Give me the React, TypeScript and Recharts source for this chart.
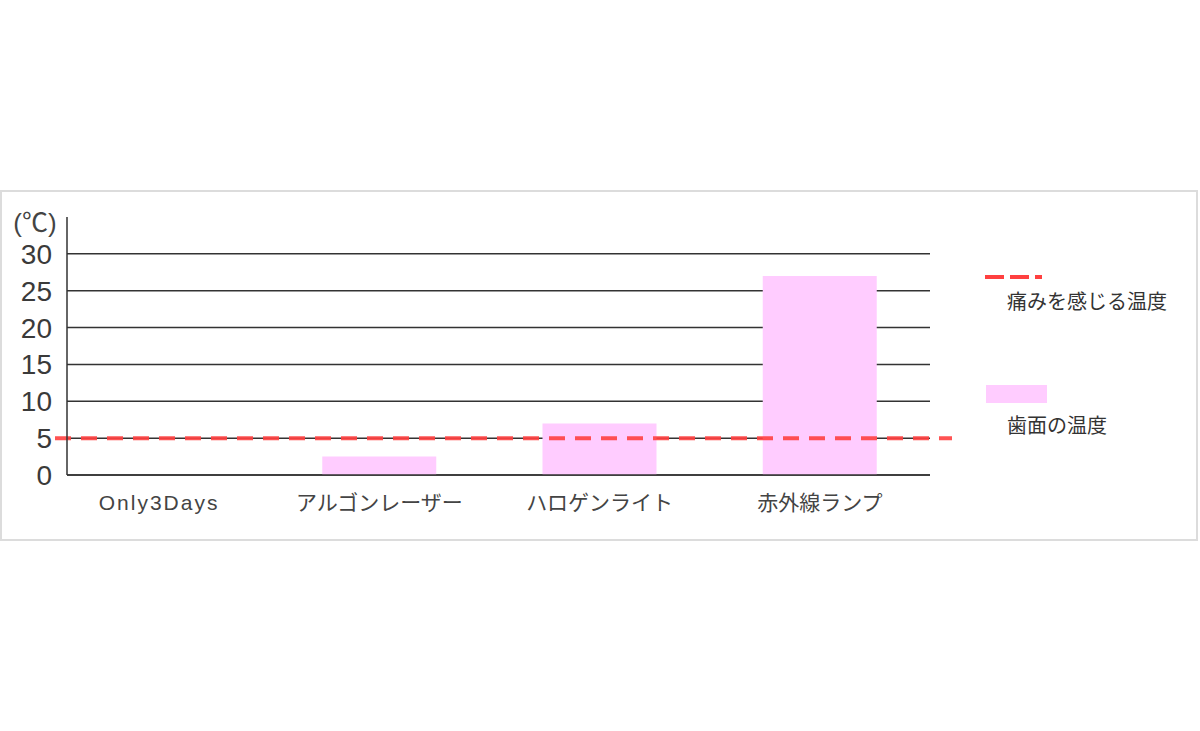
import React from 'react'
import { Bar, BarChart, CartesianGrid, Legend, ReferenceLine, XAxis, YAxis } from 'recharts'

const categories = ['Only3Days', 'アルゴンレーザー', 'ハロゲンライト', '赤外線ランプ']
const toothSurfaceTemp = [0, 2.5, 7, 27]
const painThreshold = 5
const yTicks = [0, 5, 10, 15, 20, 25, 30]
const yUnit = '(℃)'
const painLabel = '痛みを感じる温度'
const toothLabel = '歯面の温度'

const data = categories.map((name, i) => ({ name, temp: toothSurfaceTemp[i] }))

const RED = '#ff4040'
const PINK = '#ffccff'
const CJK = '"Liberation Sans", "Noto Sans CJK JP", sans-serif'

function PainLine(props: any) {
  const { x1, y1, x2, y2 } = props
  // the threshold line runs a little past both ends of the plot
  return (
    <line x1={x1 - 12} y1={y1} x2={x2 + 22} y2={y2} stroke={RED} strokeWidth={4} strokeDasharray="16 10" strokeOpacity={0.9} />
  )
}

function CategoryTick(props: any) {
  const { x, y, payload } = props
  const ascii = /^[\x00-\x7f]*$/.test(payload.value)
  return (
    <text x={x} y={y} dy="0.71em" textAnchor="middle" fontSize={21} fontFamily={CJK} fill="#444" letterSpacing={ascii ? 2 : 0}>
      {payload.value}
    </text>
  )
}

function LegendBox() {
  return (
    <svg width={220} height={200} style={{ display: 'block' }}>
      <line x1={5} y1={17} x2={62} y2={17} stroke={RED} strokeWidth={4} strokeDasharray="19 6" />
      <text x={27} y={44} fontSize={20} fontFamily={CJK} fill="#333" dominantBaseline="middle">{painLabel}</text>
      <rect x={6} y={125} width={61} height={18} fill={PINK} />
      <text x={27} y={168} fontSize={20} fontFamily={CJK} fill="#333" dominantBaseline="middle">{toothLabel}</text>
    </svg>
  )
}

function UnitLabel(props: any) {
  const { viewBox } = props
  return (
    <text x={viewBox.x + 35} y={viewBox.y + 8} fontSize={26} fontFamily={CJK} fill="#444" textAnchor="middle" dominantBaseline="middle">
      {yUnit}
    </text>
  )
}

export default function App() {
  return (
    <div style={{ position: 'absolute', left: 0, top: 0, width: 1200, height: 731, background: '#fff' }}>
      <div style={{ position: 'absolute', left: 0, top: 190, width: 1198, height: 351, border: '2px solid #dcdcdc', boxSizing: 'border-box' }} />
      <div style={{ position: 'absolute', left: 0, top: 0 }}>
        <BarChart width={1200} height={731} data={data} margin={{ top: 217, right: 270, bottom: 226, left: 0 }}>
          <CartesianGrid vertical={false} stroke="#333" strokeWidth={1.5} horizontalValues={yTicks} />
          <XAxis
            dataKey="name"
            height={30}
            padding={{ left: -18, right: 0 }}
            axisLine={{ stroke: '#333', strokeWidth: 1.5 }}
            tickLine={false}
            tickSize={0}
            tickMargin={20}
            tick={<CategoryTick />}
            interval={0}
          />
          <YAxis
            width={67}
            domain={[0, 35]}
            ticks={yTicks}
            interval={0}
            axisLine={{ stroke: '#333', strokeWidth: 1.5 }}
            tickLine={false}
            tickSize={0}
            tickMargin={15}
            tick={{ fontSize: 28, fill: '#3a3a3a', fontFamily: '"Liberation Sans", sans-serif' }}
            label={<UnitLabel />}
          />
          <Legend layout="horizontal" verticalAlign="middle" align="center" content={() => <LegendBox />} wrapperStyle={{ position: 'absolute', left: 980, top: 260, width: 220, height: 200 }} />
          <Bar dataKey="temp" name={toothLabel} fill={PINK} barSize={114} isAnimationActive={false} />
          <ReferenceLine y={painThreshold} shape={<PainLine />} ifOverflow="visible" />
        </BarChart>
      </div>
    </div>
  )
}
